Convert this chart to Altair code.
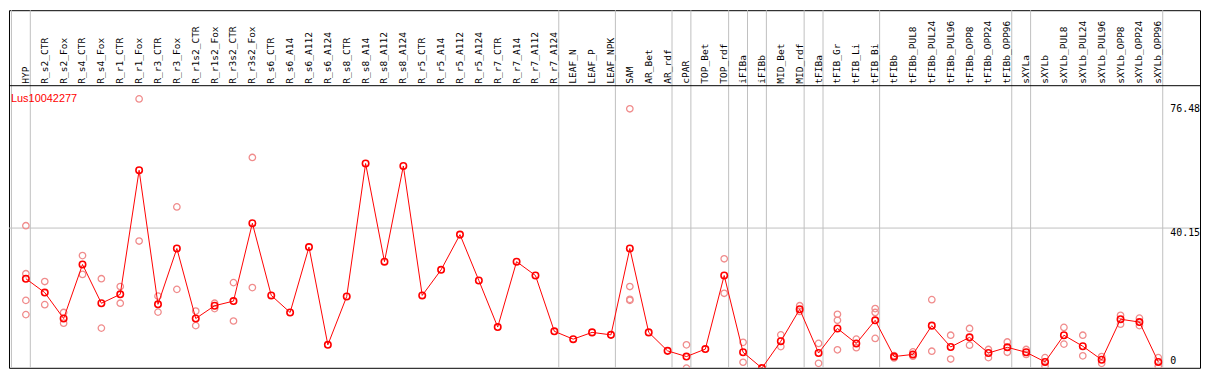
import altair as alt
import pandas as pd

categories = [
    "HYP", "R_s2_CTR", "R_s2_Fox", "R_s4_CTR", "R_s4_Fox", "R_r1_CTR", "R_r1_Fox",
    "R_r3_CTR", "R_r3_Fox", "R_r1s2_CTR", "R_r1s2_Fox", "R_r3s2_CTR", "R_r3s2_Fox",
    "R_s6_CTR", "R_s6_A14", "R_s6_A112", "R_s6_A124", "R_s8_CTR", "R_s8_A14",
    "R_s8_A112", "R_s8_A124", "R_r5_CTR", "R_r5_A14", "R_r5_A112", "R_r5_A124",
    "R_r7_CTR", "R_r7_A14", "R_r7_A112", "R_r7_A124", "LEAF_N", "LEAF_P", "LEAF_NPK",
    "SAM", "AR_Bet", "AR_rdf", "cPAR", "TOP_Bet", "TOP_rdf", "iFIBa", "iFIBb",
    "MID_Bet", "MID_rdf", "tFIBa", "tFIB_Gr", "tFIB_Li", "tFIB_Bi", "tFIBb",
    "tFIBb_PUL8", "tFIBb_PUL24", "tFIBb_PUL96", "tFIBb_OPP8", "tFIBb_OPP24",
    "tFIBb_OPP96", "sXYLa", "sXYLb", "sXYLb_PUL8", "sXYLb_PUL24", "sXYLb_PUL96",
    "sXYLb_OPP8", "sXYLb_OPP24", "sXYLb_OPP96",
]

means = [
    25.9, 22.0, 14.7, 29.9, 19.0, 21.5, 56.4, 18.7, 34.4, 14.7, 18.3, 19.6, 41.5,
    21.2, 16.4, 34.8, 7.3, 20.9, 58.3, 30.7, 57.6, 21.2, 28.4, 38.3, 25.4,
    12.3, 30.7, 26.8, 11.1, 8.9, 10.8, 10.1,
    34.4, 10.8, 5.6, 4.0, 6.1, 26.8, 5.2, 0.75,
    8.3, 17.3, 5.0, 11.9, 7.7, 14.2, 4.0,
    4.6, 12.7, 6.7, 9.4, 5.0, 6.6, 5.2, 2.5, 10.0, 6.9, 3.1, 14.5, 13.7, 2.5,
]

rep_names = [
    "HYP", "HYP", "HYP", "HYP",
    "R_s2_CTR", "R_s2_CTR", "R_s2_Fox", "R_s2_Fox", "R_s4_CTR", "R_s4_CTR",
    "R_s4_Fox", "R_s4_Fox", "R_r1_CTR", "R_r1_CTR", "R_r1_Fox", "R_r1_Fox",
    "R_r3_CTR", "R_r3_CTR", "R_r3_Fox", "R_r3_Fox", "R_r1s2_CTR", "R_r1s2_CTR",
    "R_r1s2_Fox", "R_r1s2_Fox", "R_r3s2_CTR", "R_r3s2_CTR", "R_r3s2_Fox", "R_r3s2_Fox",
    "SAM", "SAM", "SAM", "SAM",
    "cPAR", "cPAR", "TOP_rdf", "TOP_rdf", "iFIBa", "iFIBa",
    "MID_Bet", "MID_Bet", "MID_rdf", "MID_rdf", "tFIBa", "tFIBa",
    "tFIB_Gr", "tFIB_Gr", "tFIB_Gr", "tFIB_Li", "tFIB_Li",
    "tFIB_Bi", "tFIB_Bi", "tFIB_Bi", "tFIBb", "tFIBb",
    "tFIBb_PUL8", "tFIBb_PUL8", "tFIBb_PUL24", "tFIBb_PUL24",
    "tFIBb_PUL96", "tFIBb_PUL96", "tFIBb_OPP8", "tFIBb_OPP8",
    "tFIBb_OPP24", "tFIBb_OPP24", "tFIBb_OPP96", "tFIBb_OPP96",
    "sXYLa", "sXYLa", "sXYLb", "sXYLb", "sXYLb_PUL8", "sXYLb_PUL8",
    "sXYLb_PUL24", "sXYLb_PUL24", "sXYLb_PUL96", "sXYLb_PUL96",
    "sXYLb_OPP8", "sXYLb_OPP8", "sXYLb_OPP24", "sXYLb_OPP24",
    "sXYLb_OPP96", "sXYLb_OPP96",
]
rep_values = [
    40.8, 27.3, 19.8, 15.8,
    25.1, 18.6, 16.4, 13.4, 32.4, 27.1,
    25.9, 12.0, 23.7, 19.0, 76.48, 36.5,
    21.0, 16.5, 46.1, 22.9, 16.8, 12.7,
    19.0, 17.5, 24.8, 14.0, 60.0, 23.4,
    73.7, 23.7, 20.1, 19.8,
    7.3, 0.75, 31.5, 21.8, 8.0, 2.4,
    10.1, 6.8, 18.3, 16.7, 7.7, 2.1,
    15.9, 14.2, 5.9, 8.9, 6.5,
    17.5, 16.4, 9.1, 4.3, 3.6,
    5.3, 4.1, 20.0, 5.5,
    10.0, 3.3, 11.9, 7.2,
    6.0, 3.7, 8.1, 5.2,
    6.0, 4.6, 3.7, 1.3, 12.2, 7.5,
    10.0, 4.2, 4.0, 2.1,
    15.6, 13.1, 14.8, 12.7,
    3.7, 1.3,
]

# group separators: after these category counts
group_ends = [0, 1, 29, 32, 35, 36, 38, 39, 40, 42, 43, 46, 53, 54, 61]

tick_values = [0, 40.15, 76.48]
tick_labels = ["0", "40.15", "76.48"]
gene = "Lus10042277"

W, H = 1199, 360
xdom = [0.10526, 63.2105]
ydom = [0.838, 101.43]

idx = list(range(1, len(categories) + 1))
df_means = pd.DataFrame({"i": idx, "name": categories, "v": means})
pos = {n: k for n, k in zip(categories, idx)}
df_reps = pd.DataFrame({"i": [pos[n] for n in rep_names], "v": rep_values})
df_groups = pd.DataFrame({"b": [g + 0.235 for g in group_ends]})

xs = alt.Scale(domain=xdom, nice=False, zero=False)
ys = alt.Scale(domain=ydom, nice=False, zero=False)
X = lambda f: alt.X(f, type="quantitative", scale=xs, axis=None)
Y = lambda f: alt.Y(f, type="quantitative", scale=ys, axis=None)

vlines = alt.Chart(df_groups).mark_rule(color="#c0c0c0", strokeWidth=1).encode(x=X("b"))

hgrid = alt.Chart(pd.DataFrame({"v": [tick_values[1]]})).mark_rule(
    color="#c0c0c0", strokeWidth=1).encode(y=Y("v"))

sep = alt.Chart(pd.DataFrame({"a": [0]})).mark_rule(color="black", strokeWidth=1).encode(
    x=alt.value(0), x2=alt.value(W), y=alt.value(76))

cat_labels = alt.Chart(df_means).mark_text(
    angle=270, align="left", baseline="middle", font="DejaVu Sans Mono",
    fontSize=9.6, color="black").encode(x=X("i"), y=alt.value(74), text="name:N")

reps = alt.Chart(df_reps).mark_point(
    shape="circle", filled=False, color="#f08c8c", size=42, strokeWidth=1.3,
    opacity=1, clip=True).encode(x=X("i"), y=Y("v"))

line = alt.Chart(df_means).mark_line(color="#ff0000", strokeWidth=1, clip=True).encode(
    x=X("i"), y=Y("v"), order="i:Q")

pts = alt.Chart(df_means).mark_point(
    shape="circle", filled=False, color="#ff0000", size=42, strokeWidth=1.6,
    opacity=1, clip=True).encode(x=X("i"), y=Y("v"))

gene_text = alt.Chart(pd.DataFrame({"t": [gene]})).mark_text(
    align="left", baseline="alphabetic", font="Liberation Sans", fontSize=11,
    color="#ff0000").encode(x=alt.value(2), y=alt.value(92), text="t:N")

dys = {"0": -6.5, "40.15": 7.7, "76.48": 12.7}
ylabel_layers = []
for tv, tl in zip(tick_values, tick_labels):
    ylabel_layers.append(
        alt.Chart(pd.DataFrame({"v": [tv], "t": [tl]})).mark_text(
            align="left", baseline="alphabetic", font="DejaVu Sans Mono",
            fontSize=10, color="black", dy=dys[tl]).encode(
            x=alt.value(1169), y=Y("v"), text="t:N"))

chart = alt.layer(vlines, hgrid, sep, cat_labels, reps, line, pts, gene_text,
                  *ylabel_layers).properties(
    width=W, height=H, padding=1,
    autosize=alt.AutoSizeParams(type="none"),
).configure_view(stroke="black", strokeWidth=1)

chart.save("out.html", embed_options={"renderer": "svg", "actions": False})
